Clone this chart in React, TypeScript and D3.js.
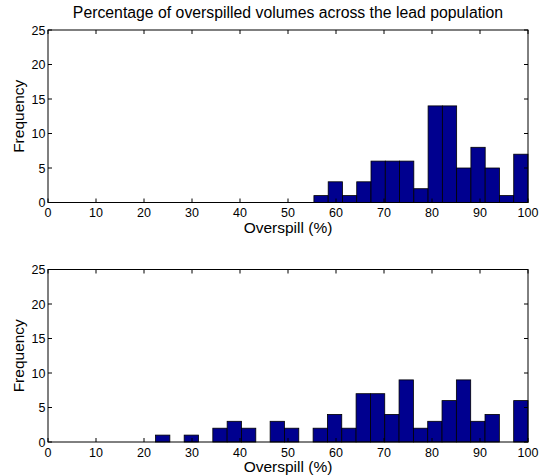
import React from "react";
import * as d3 from "d3";

const title = "Percentage of overspilled volumes across the lead population";
const xLabel = "Overspill (%)";
const yLabel = "Frequency";
const xTicks = [0, 10, 20, 30, 40, 50, 60, 70, 80, 90, 100];
const yTicks = [0, 5, 10, 15, 20, 25];

// Top histogram: 15 bins from 55.4 to 100
const topMin = 55.4;
const topMax = 100;
const topCounts = [1, 3, 1, 3, 6, 6, 6, 2, 14, 14, 5, 8, 5, 1, 7];

// Bottom histogram: 26 bins from 22.4 to 100
const botMin = 22.4;
const botMax = 100;
const botCounts = [1, 0, 1, 0, 2, 3, 2, 0, 3, 2, 0, 2, 4, 2, 7, 7, 4, 9, 2, 3, 6, 9, 3, 4, 0, 6];

const FONT = "'Liberation Sans', Arial, Helvetica, sans-serif";

function Hist({ top, counts, min, max, showTitle }: { top: number; counts: number[]; min: number; max: number; showTitle: boolean }) {
  const left = 48, right = 528, h = 172.5;
  const bottom = top + h;
  const x = d3.scaleLinear().domain([0, 100]).range([left, right]);
  const y = d3.scaleLinear().domain([0, 25]).range([bottom, top]);
  const w = (max - min) / counts.length;
  const tickLen = 4;
  return (
    <g>
      {showTitle && (
        <text x={(left + right) / 2} y={top - 12} textAnchor="middle" fontSize={15.8} fontFamily={FONT}>{title}</text>
      )}
      {counts.map((c, i) =>
        c > 0 ? (
          <rect key={i} x={x(min + i * w)} y={y(c)} width={x(min + (i + 1) * w) - x(min + i * w)} height={y(0) - y(c)}
            fill="#00008f" stroke="#000" strokeWidth={0.8} />
        ) : null
      )}
      <rect x={left} y={top} width={right - left} height={h} fill="none" stroke="#000" strokeWidth={1} />
      {xTicks.map((t) => (
        <g key={"x" + t}>
          <line x1={x(t)} x2={x(t)} y1={bottom} y2={bottom - tickLen} stroke="#000" />
          <line x1={x(t)} x2={x(t)} y1={top} y2={top + tickLen} stroke="#000" />
          <text x={x(t)} y={bottom + 14.5} textAnchor="middle" fontSize={12.5} fontFamily={FONT}>{t}</text>
        </g>
      ))}
      {yTicks.map((t) => (
        <g key={"y" + t}>
          <line x1={left} x2={left + tickLen} y1={y(t)} y2={y(t)} stroke="#000" />
          <line x1={right} x2={right - tickLen} y1={y(t)} y2={y(t)} stroke="#000" />
          <text x={left - 2.5} y={y(t) + 4.5} textAnchor="end" fontSize={12.5} fontFamily={FONT}>{t}</text>
        </g>
      ))}
      <text x={(left + right) / 2} y={bottom + 30} textAnchor="middle" fontSize={15.5} fontFamily={FONT}>{xLabel}</text>
      <text transform={`translate(24,${(top + bottom) / 2}) rotate(-90)`} textAnchor="middle" fontSize={15.5} fontFamily={FONT}>{yLabel}</text>
    </g>
  );
}

export default function App() {
  return (
    <svg width={546} height={476} style={{ position: "absolute", left: 0, top: 0, background: "#fff" }}>
      <rect width={546} height={476} fill="#fff" />
      <Hist top={30} counts={topCounts} min={topMin} max={topMax} showTitle={true} />
      <Hist top={269.5} counts={botCounts} min={botMin} max={botMax} showTitle={false} />
    </svg>
  );
}
